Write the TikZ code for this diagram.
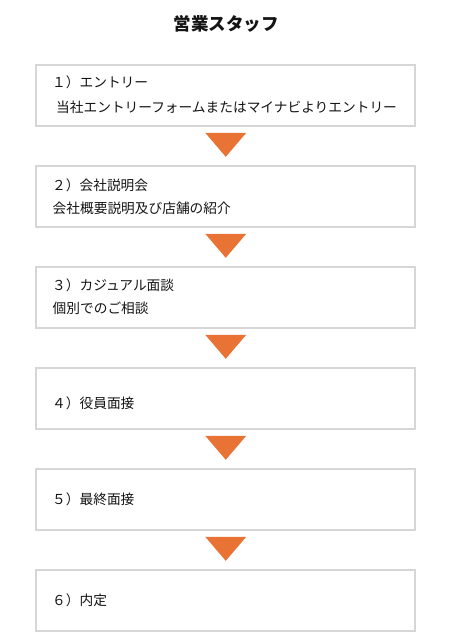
\documentclass[tikz,border=0pt]{standalone}
\usepackage{fontspec}
\setmainfont{Noto Sans CJK JP}
\definecolor{boxline}{HTML}{D6D6D6}
\definecolor{arrowor}{HTML}{E87335}
\definecolor{txt}{HTML}{141414}
\tikzset{
  stepbox/.style={draw=boxline, line width=1.6pt, fill=white, rectangle,
    minimum width=379pt, minimum height=61pt, inner sep=0pt},
  steptext/.style={anchor=base west, inner sep=0pt, text=txt,
    font=\fontsize{13.7}{16}\selectfont},
  titletext/.style={anchor=base, inner sep=0pt, text=txt,
    font=\fontsize{17.5}{20}\selectfont\bfseries},
  downtri/.style={fill=arrowor}
}
\begin{document}
\begin{tikzpicture}[x=1pt,y=-1pt]
\useasboundingbox (0,0) rectangle (454,642);
\node[titletext] (title) at (226,30.5) {営業スタッフ};
% boxes
\node[stepbox] (b1) at (225.75,95.5) {};
\node[stepbox] (b2) at (225.75,196.5) {};
\node[stepbox] (b3) at (225.75,297.5) {};
\node[stepbox] (b4) at (225.75,398.5) {};
\node[stepbox] (b5) at (225.75,499.5) {};
\node[stepbox] (b6) at (225.75,600.5) {};
% texts
\node[steptext] (t1a) at (52,87) {１）エントリー};
\node[steptext] (t1b) at (56,112) {当社エントリーフォームまたはマイナビよりエントリー};
\node[steptext] (t2a) at (52,190) {２）会社説明会};
\node[steptext] (t2b) at (52.5,213) {会社概要説明及び店舗の紹介};
\node[steptext] (t3a) at (52,290) {３）カジュアル面談};
\node[steptext] (t3b) at (52.5,313) {個別でのご相談};
\node[steptext] (t4) at (52,408) {４）役員面接};
\node[steptext] (t5) at (52,504) {５）最終面接};
\node[steptext] (t6) at (52,605) {６）内定};
% triangles between boxes
\foreach \a in {b1,b2,b3,b4,b5}{
  \fill[downtri] ([xshift=-20.5pt,yshift=-6pt]\a.south) -- ([xshift=20.5pt,yshift=-6pt]\a.south)
    -- ([yshift=-30pt]\a.south) -- cycle;
}
\end{tikzpicture}
\end{document}
